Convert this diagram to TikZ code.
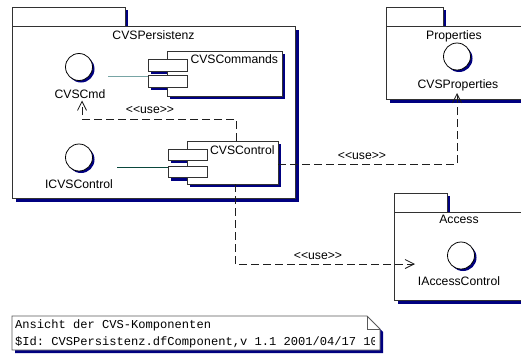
\documentclass[tikz,border=0pt]{standalone}
\usepackage{fontspec}
\newfontfamily\umlsans{Liberation Sans}
\newfontfamily\umlmono{Liberation Mono}
\usetikzlibrary{shadows,arrows.meta,calc}
\definecolor{shadowc}{RGB}{0,0,128}
\definecolor{edgec}{RGB}{50,50,50}
\definecolor{linkA}{RGB}{120,165,165}
\definecolor{linkB}{RGB}{10,72,60}
\definecolor{depc}{RGB}{30,30,30}
\begin{document}
\begin{tikzpicture}[x=1pt,y=-1pt,
  every node/.style={inner sep=0pt,outer sep=0pt},
  box/.style 2 args={minimum width=#1pt,minimum height=#2pt},
  tabbox/.style={rectangle,draw=edgec,line width=0.8pt,fill=white,anchor=north west,
     drop shadow={shadow xshift=3pt,shadow yshift=-3pt,fill=shadowc,opacity=1}},
  pkgbox/.style={rectangle,draw=edgec,line width=0.8pt,fill=white,anchor=north west,
     drop shadow={shadow xshift=3.5pt,shadow yshift=-3.5pt,fill=shadowc,opacity=1}},
  compbox/.style={rectangle,draw=edgec,line width=0.8pt,fill=white,anchor=north west,
     drop shadow={shadow xshift=3pt,shadow yshift=-3pt,fill=shadowc,opacity=1}},
  portsh/.style={rectangle,fill=shadowc,anchor=north west,xshift=3pt,yshift=-3pt},
  portdraw/.style={draw=edgec,line width=0.8pt,fill=white},
  iface/.style={circle,draw=black,line width=0.8pt,fill=white,minimum size=27pt,
     drop shadow={shadow xshift=2pt,shadow yshift=-2pt,fill=shadowc,opacity=1}},
  lbl/.style={font=\umlsans\fontsize{12.2}{14}\selectfont,anchor=base},
  dep/.style={draw=depc,line width=0.8pt,dash pattern=on 8pt off 4pt},
  deparrow/.style={dep,-{Straight Barb[length=9pt,width=9pt,line width=0.8pt]}},
  notetext/.style={font=\umlmono\fontsize{12.1}{14}\selectfont\frenchspacing,anchor=base west}
]
\useasboundingbox (0,0) rectangle (521,359);

% ---------- package CVSPersistenz ----------
\node[tabbox,box={113}{19}] (pTab) at (12,7) {};
\node[pkgbox,box={283}{172}] (pBody) at (12,26) {};
\node[lbl] (pName) at (153.5,39) {CVSPersistenz};

% ---------- package Properties ----------
\node[tabbox,box={57}{19}] (prTab) at (386,7) {};
\node[pkgbox,box={140}{73}] (prBody) at (386,26) {};
\node[lbl] (prName) at (454,39) {Properties};

% ---------- package Access ----------
\node[tabbox,box={53}{19}] (acTab) at (394,193) {};
\node[pkgbox,box={140}{88}] (acBody) at (394,212) {};
\node[lbl] (acName) at (459,223) {Access};

% ---------- interfaces ----------
\node[iface] (cmd) at (79,67) {};
\node[lbl] (cmdLbl) at (80,98) {CVSCmd};
\node[iface] (ictl) at (79,157.5) {};
\node[lbl] (ictlLbl) at (79,188) {ICVSControl};
\node[iface] (prop) at (457,56.5) {};
\node[lbl] (propLbl) at (458,88) {CVSProperties};
\node[iface] (iac) at (461,255.5) {};
\node[lbl] (iacLbl) at (459,285) {IAccessControl};

% ---------- component CVSCommands ----------
\node[portsh,box={39}{12}] (cmdsS1) at (148,59) {};
\node[portsh,box={39}{12}] (cmdsS2) at (148,75) {};
\node[compbox,box={115}{45}] (cmds) at (167,51) {};
\coordinate (cmdsP1nw) at (148,59);
\coordinate (cmdsP2nw) at (148,75);
\draw[portdraw] (cmdsP1nw) rectangle ++(39,12);
\draw[portdraw] (cmdsP2nw) rectangle ++(39,12);
\node[lbl,anchor=base east] (cmdsName) at (278,63) {CVSCommands};

% ---------- component CVSControl ----------
\node[portsh,box={39}{11}] (ctlS1) at (168,149) {};
\node[portsh,box={39}{11}] (ctlS2) at (168,166.5) {};
\node[compbox,box={91}{43}] (ctl) at (187,141) {};
\coordinate (ctlP1nw) at (168,149);
\coordinate (ctlP2nw) at (168,166.5);
\draw[portdraw] (ctlP1nw) rectangle ++(39,11);
\draw[portdraw] (ctlP2nw) rectangle ++(39,11);
\node[lbl,anchor=base east] (ctlName) at (274.5,154) {CVSControl};

% ---------- solid links ----------
\coordinate (cmdStart) at (108,76.5);
\draw[linkA,line width=0.9pt] (cmdStart) -- (cmdStart -| cmdsP2nw);
\coordinate (ictlStart) at (117,167);
\draw[linkB,line width=0.9pt] (ictlStart) -- (ictlStart -| ctlP2nw);

% ---------- dependencies ----------
\coordinate (bendA) at (82,119);
\coordinate (cmdTip) at (82,100.5);
\draw[deparrow] ([xshift=3.5pt]ctl.north) |- (bendA) -- (cmdTip);
\node[lbl] (use1) at (150,113) {<\kern0pt<use>\kern0pt>};

\coordinate (propTip) at (457,93);
\draw[deparrow] ([yshift=-1.5pt]ctl.east) -| (propTip);
\node[lbl] (use2) at (362,159) {<\kern0pt<use>\kern0pt>};

\coordinate (accTip) at (415,264);
\draw[deparrow] ([xshift=2.5pt]ctl.south) |- (accTip);
\node[lbl] (use3) at (318,259) {<\kern0pt<use>\kern0pt>};

% ---------- note ----------
\fill[shadowc] (15,319) -- (370,319) -- (383,332) -- (383,353) -- (15,353) -- cycle;
\draw[draw=black!65,line width=0.8pt,fill=white] (12,316) -- (367,316) -- (380,329) -- (380,350) -- (12,350) -- cycle;
\draw[draw=black!65,line width=0.8pt] (367,316) -- (367,329) -- (380,329);
\begin{scope}
  \clip (12,316) rectangle (374,350);
  \node[notetext] (n1) at (15,328) {Ansicht der CVS-Komponenten};
  \node[notetext] (n2) at (15,345) {\$Id: CVSPersistenz.dfComponent,v 1.1 2001/04/17 10};
\end{scope}
\end{tikzpicture}
\end{document}
